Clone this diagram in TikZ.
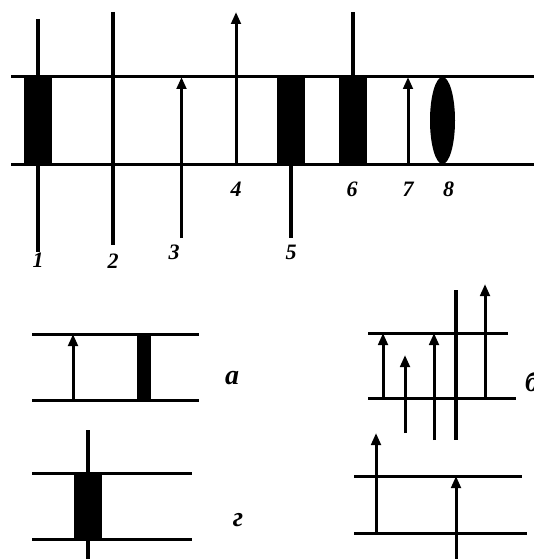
\documentclass[tikz,border=0pt]{standalone}
\usepackage{fontspec}
\setmainfont{Liberation Serif}
\usetikzlibrary{arrows.meta}

\tikzset{
  rail/.style={line width=3pt},
  stem/.style={line width=3.2pt},
  upar/.style={line width=3pt,-{Triangle[width=9.5pt,length=12pt]}},
  num/.style={font=\fontsize{22}{22}\selectfont\bfseries\itshape},
  cyr/.style={font=\fontsize{28}{28}\selectfont\bfseries\itshape},
}

\begin{document}
\begin{tikzpicture}[x=1pt,y=-1pt]
\useasboundingbox (0,0) rectangle (534,559);
% main strip
\draw[rail] (11,77) -- (545,77);
\draw[rail] (11,164) -- (545,164);
% 1
\fill (24,77) rectangle (52,164);
\draw[stem] (38,19) -- (38,252);
% 2
\draw[stem] (113,12) -- (113,245);
% 3
\draw[upar] (181.5,238) -- (181.5,77);
% 4
\draw[upar] (236,164) -- (236,12);
% 5
\fill (277,77) rectangle (305,164);
\draw[stem] (291,164) -- (291,238);
% 6
\fill (339,77) rectangle (367,164);
\draw[stem] (353,77) -- (353,12);
% 7
\draw[upar] (408,164) -- (408,77);
% 8
\fill (442.5,120.5) ellipse [x radius=12.5, y radius=43.5];
% numbers
\node[num] (n1) at (38,260) {1};
\node[num] (n2) at (113,261) {2};
\node[num] (n3) at (174,252) {3};
\node[num] (n4) at (236,189) {4};
\node[num] (n5) at (291,252) {5};
\node[num] (n6) at (352,189) {6};
\node[num] (n7) at (408,189) {7};
\node[num] (n8) at (448.5,189) {8};

% panel a
\draw[rail] (32,334) -- (199,334);
\draw[rail] (32,400) -- (199,400);
\draw[upar] (73,400) -- (73,334);
\fill (137,334) rectangle (151,400);
\node[cyr] (la) at (232,378) {а};

% panel b
\draw[rail] (368,333) -- (508,333);
\draw[rail] (368,398) -- (516,398);
\draw[upar] (383,398) -- (383,333);
\draw[upar] (405,433) -- (405,355);
\draw[upar] (434,440) -- (434,333);
\draw[stem] (456,290) -- (456,440);
\draw[upar] (485,398) -- (485,284);
\node[cyr] (lb) at (532,382) {б};

% panel g
\draw[rail] (32,473.5) -- (192,473.5);
\draw[rail] (32,539) -- (192,539);
\fill (74,473.5) rectangle (102,539);
\draw[stem] (88,430) -- (88,565);
\node[cyr] (lg) at (238,520) {г};

% panel v
\draw[rail] (354,476) -- (522,476);
\draw[rail] (354,533) -- (527,533);
\draw[upar] (376,533) -- (376,433);
\draw[upar] (456,565) -- (456,476);
\node[cyr] (lv) at (542,528) {в};
\end{tikzpicture}
\end{document}
